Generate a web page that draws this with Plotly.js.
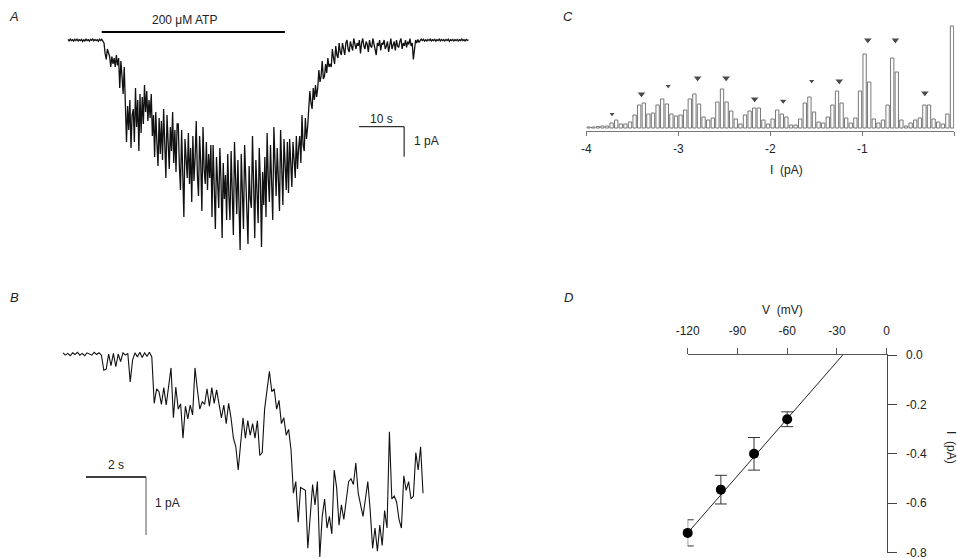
<!DOCTYPE html>
<html><head><meta charset="utf-8">
<script src="https://cdn.plot.ly/plotly-3.0.1.min.js"></script>
<style>html,body{margin:0;padding:0;background:#fff;}#chart{width:957px;height:559px;}</style>
</head><body><div id="chart"></div>
<script>
// ---------- Panel A: current during 200 uM ATP (pA vs s) ----------
const dtA = 0.25; // s per sample
const currentA = [
 // 0 - 7.75 s baseline
 0.02,-0.03,0.03,-0.02,0.01,-0.04,0.02,-0.02,0.03,-0.03,0.01,-0.02,0.02,-0.05,0.01,-0.03,
 0.03,-0.02,0.01,-0.04,0.02,-0.01,0.03,-0.03,0.02,-0.02,0.01,-0.04,0.03,-0.02,0.02,-0.03,
 // 8 - 61.25 s
 -0.1,-0.45,-0.65,-0.3,-0.4,-0.55,
 -0.9,-0.55,-0.8,-0.6,-0.9,-0.5,-0.85,-0.6,
 -1.6,-0.7,-1.2,-1.8,-0.9,-1.9,
 -3.4,-2.2,-3.0,-2.0,-3.6,-2.5,
 -2.3,-3.4,-1.6,-2.9,-2.0,-3.7,-1.8,-3.1,
 -1.9,-2.8,-1.5,-2.4,-1.7,-2.7,-2.0,-2.6,
 -1.8,-3.2,-2.5,-3.9,-2.4,-3.4,-4.2,-2.6,-3.8,-2.7,
 -4.0,-2.3,-3.5,-4.6,-2.5,-3.3,-4.3,-2.9,-3.7,-2.4,-4.1,-3.0,-4.4,-2.8,
 -2.8,-4.2,-5.0,-3.0,-4.4,-5.9,-3.3,-4.0,-4.6,-3.1,-4.8,-3.6,-5.4,-3.2,-4.7,-3.9,
 -2.7,-4.5,-5.2,-3.2,-4.1,-5.7,-2.9,-4.3,-4.8,-3.4,-5.0,-3.8,-4.6,-3.5,
 -5.9,-3.5,-4.8,-6.3,-3.9,-5.1,-5.6,-3.6,-4.7,-6.6,-4.1,-5.3,-4.5,-6.0,-3.8,-5.2,
 -6.0,-3.7,-5.0,-6.5,-3.4,-4.6,-5.8,-4.0,-5.5,-7.0,-3.8,-5.2,-6.3,-3.5,-4.9,-5.9,
 -6.8,-4.2,-5.3,-5.6,-3.2,-4.8,-6.6,-4.0,-5.4,-6.1,-3.6,-4.7,-6.9,-4.4,-5.5,-3.9,
 -5.9,-3.1,-4.6,-5.4,-3.5,-4.9,-6.0,-2.9,-4.4,-5.2,-3.6,-4.8,-5.7,-3.0,-4.5,-5.5,-3.3,-4.2,-5.0,-3.4,
 -5.1,-3.3,-4.4,-4.9,-3.4,-4.2,-4.6,-3.2,-4.3,-3.6,
 -3.2,-4.1,-2.5,-3.5,-3.7,-2.6,-3.3,-2.9,
 -2.4,-1.7,-2.1,-2.3,-1.6,-2.0,-1.5,-1.9,
 -1.6,-1.0,-1.4,-1.2,-0.7,-1.3,-1.2,-0.8,-1.1,-0.6,-0.9,-0.8,
 -0.9,-0.3,-0.6,-0.8,-0.2,-0.5,-0.6,-0.1,-0.4,-0.5,-0.1,-0.3,
 // 61.5 - 78.25 s recovery tail
 -0.5,-0.1,0.0,-0.3,-0.4,-0.05,-0.2,-0.35,
 0.05,-0.15,-0.3,-0.1,-0.2,0.0,-0.45,-0.1,
 0.05,-0.2,-0.3,-0.05,-0.15,-0.4,0.0,-0.2,
 -0.25,0.05,-0.1,-0.3,-0.5,-0.1,-0.2,0.0,
 -0.35,-0.1,-0.15,0.0,-0.3,-0.2,-0.05,-0.4,
 -0.1,0.05,-0.3,-0.15,-0.05,-0.35,0.0,-0.2,
 -0.25,-0.05,0.05,-0.3,-0.1,-0.2,0.0,-0.25,
 -0.05,-0.15,0.05,-0.2,-0.1,-0.65,-0.2,0.0,
 -0.1,0.02,-0.08,-0.03,
 // 78.5 - 89 s baseline
 0.03,-0.02,0.02,-0.04,0.01,-0.03,0.02,-0.02,0.03,-0.03,0.01,-0.02,0.02,-0.04,0.01,-0.02,
 0.03,-0.03,0.02,-0.02,0.01,-0.03,0.02,-0.02,0.03,-0.04,0.01,-0.02,0.02,-0.03,0.01,-0.02,
 0.02,-0.03,0.01,-0.02,0.03,-0.02,0.01,-0.03,0.02,-0.01,0.0
];
const atpStart = 7.5, atpEnd = 48.2; // s, application bar

// ---------- Panel B: expanded trace (pA vs s) ----------
const dtB = 0.08;
const currentB = [
 0.02,-0.02,0.01,-0.03,0.02,-0.01,0.03,-0.02,0.01,-0.03,0.02,0,-0.02,0.03,-0.01,0.02,-0.02,
 -0.28,-0.26,0.0,-0.2,0.01,-0.22,0.0,-0.13,0.02,-0.02,0.01,-0.48,-0.1,
 0.02,-0.05,0.03,-0.06,0.02,-0.04,0.03,-0.05,
 -0.85,-0.6,-0.65,-0.87,-0.58,-0.88,-0.6,-0.24,-1.1,-0.57,-0.95,-0.86,-1.45,-0.9,-1.12,-0.88,-1.05,
 -0.24,-0.62,-0.95,-0.82,-0.87,-0.6,-0.9,-0.58,-0.85,-0.62,
 -0.9,-1.1,-0.88,-1.2,-0.85,-1.1,-1.45,-1.6,-2.0,-1.5,-1.1,-1.45,-1.15,-1.4,-1.2,-1.45,-1.15,-1.75,-1.7,
 -0.95,-0.6,-0.3,-0.65,-0.6,-0.95,-0.8,-1.2,-1.1,-1.4,-1.3,-1.65,
 -2.4,-2.2,-2.9,-2.3,-2.32,-2.35,-3.35,-2.8,-2.25,-2.6,-2.2,-3.5,-2.8,-2.5,-3.0,-2.8,-3.1,
 -2.0,-2.3,-2.95,-2.6,-2.85,-2.55,-2.2,-2.15,-2.25,-1.88,-2.4,-2.6,-2.8,-2.5,-2.2,-2.7,
 -3.35,-3.0,-3.4,-2.95,-3.3,-2.7,-3.0,-1.34,-2.5,-2.45,-2.55,-2.85,-3.0,-2.1,-2.35,-2.2,-2.5,-2.45,-1.7,-2.0,-1.6,-2.4
];

// ---------- Panel C: amplitude histogram ----------
const histBinStart = -4, histBinWidth = 0.05;
const histCounts = [
 1,1,1.5,2,2,5,8,4,4,6, 13,23,25,14,15,23,29,24,14,12,
 13,18,29,34,24,11,8,10,26,39, 26,17,9,4,13,17,20,20,8,4,
 9,18,14,11,3,3,9,25,31,16, 6,5,11,23,37,25,10,5,10,37,
 74,46,9,5,8,23,70,56,8,2, 5,8,10,23,23,9,6,4,14,102
];
const peakLevels = [-3.72,-3.40,-3.11,-2.79,-2.48,-2.17,-1.86,-1.55,-1.25,-0.94,-0.64,-0.32];
const peakMarkerHeights = [14,34,42,50,50,29,27,47,47,88,88,35];
const histTickVals = [-4,-3,-2,-1,0];
const histTickText = ["-4","-3","-2","-1","0"];

// ---------- Panel D: I-V relation ----------
const voltage = [-120,-100,-80,-60];
const meanCurrent = [-0.72,-0.545,-0.40,-0.26];
const semCurrent = [0.053,0.058,0.066,0.03];
const reversalPotential = -26.5; // mV
const slopeConductance = 0.0077;  // pA/mV
const fitVoltage = [-120.5, reversalPotential];
const vTickVals = [-120,-90,-60,-30,0];
const vTickText = ["-120","-90","-60","-30","0"];
const iTickVals = [0,-0.2,-0.4,-0.6,-0.8];
const iTickText = ["0.0","-0.2","-0.4","-0.6","-0.8"];

// ---------- build ----------
const W = 957, H = 559;
const px = x => x / W, py = y => 1 - y / H;
const FONT = "Liberation Sans, Arial, Helvetica, sans-serif";
const timeA = currentA.map((_, i) => i * dtA);
const timeB = currentB.map((_, i) => i * dtB);
const binCenters = histCounts.map((_, i) => histBinStart + histBinWidth * (i + 0.5));
const fitCurrent = fitVoltage.map(v => slopeConductance * (v - reversalPotential));

const traces = [
 {x: timeA, y: currentA, xaxis:'x', yaxis:'y', mode:'lines', line:{color:'#111', width:1.3}, hoverinfo:'skip'},
 {x: timeB, y: currentB, xaxis:'x2', yaxis:'y2', mode:'lines', line:{color:'#111', width:1.1, shape:'linear'}, hoverinfo:'skip'},
 {type:'bar', x: binCenters, y: histCounts, xaxis:'x3', yaxis:'y3', width: histBinWidth*0.72,
  marker:{color:'#fff', line:{color:'#777', width:1}}, hoverinfo:'skip'},
 {x: peakLevels, y: peakMarkerHeights, xaxis:'x3', yaxis:'y3', mode:'markers',
  marker:{symbol:'triangle-down', size:[6,8,6,8,8,8,7,6,8,8,8,8], color:'#000'}, cliponaxis:false, hoverinfo:'skip'},
 {x: fitVoltage, y: fitCurrent, xaxis:'x4', yaxis:'y4', mode:'lines', line:{color:'#222', width:1}, hoverinfo:'skip'},
 {x: voltage, y: meanCurrent, xaxis:'x4', yaxis:'y4', mode:'markers', cliponaxis:false,
  marker:{color:'#000', size:10},
  error_y:{type:'data', array: semCurrent, visible:true, color:'#333', thickness:1, width:6}, hoverinfo:'skip'}
];

const hidden = {visible:false, showgrid:false, zeroline:false, fixedrange:true};
const txt = (text, x, y, extra) => Object.assign({text, xref:'paper', yref:'paper', x:px(x), y:py(y),
  xanchor:'center', yanchor:'middle', showarrow:false, font:{size:12, color:'#222'}}, extra || {});
const layout = {
 width: W, height: H, margin:{l:0,r:0,t:0,b:0}, paper_bgcolor:'#fff', plot_bgcolor:'rgba(0,0,0,0)',
 showlegend:false, font:{family:FONT, size:12, color:'#222'},
 xaxis: Object.assign({domain:[px(60), px(480)], range:[-1.778, 91.56], anchor:'y'}, hidden),
 yaxis: Object.assign({domain:[py(260), py(10)], range:[-7.333, 1.0], anchor:'x'}, hidden),
 xaxis2: Object.assign({domain:[px(55), px(430)], range:[-0.267, 12.233], anchor:'y2'}, hidden),
 yaxis2: Object.assign({domain:[0, py(290)], range:[-3.534, 1.103], anchor:'x2'}, hidden),
 xaxis3: {domain:[px(586.3), px(954.3)], range:[-4,0], anchor:'y3', showline:true, linecolor:'#777', linewidth:1,
   ticks:'outside', ticklen:4, tickcolor:'#777', tickvals:histTickVals, ticktext:histTickText, ticklabelstandoff:3,
   showgrid:false, zeroline:false, tickfont:{size:12, color:'#222'}},
 yaxis3: Object.assign({domain:[py(131), py(18)], range:[-3, 110], anchor:'x3'}, hidden),
 xaxis4: {domain:[px(687.7), px(886.7)], range:[-120,0], anchor:'y4', side:'top', showline:true, linecolor:'#555', linewidth:1,
   ticks:'outside', ticklen:6, tickcolor:'#555', tickvals:vTickVals, ticktext:vTickText, ticklabelstandoff:8,
   showgrid:false, zeroline:false, tickfont:{size:12, color:'#222'}},
 yaxis4: {domain:[py(552.9), py(355)], range:[-0.801,0], anchor:'x4', side:'right', showline:true, linecolor:'#444', linewidth:1,
   ticks:'outside', ticklen:9, tickcolor:'#444', tickvals:iTickVals, ticktext:iTickText, ticklabelstandoff:7,
   ticklabeloverflow:'allow', showgrid:false, zeroline:false, tickfont:{size:12, color:'#222'}},
 shapes: [
  {type:'line', xref:'x', yref:'y', x0:atpStart, x1:atpEnd, y0:0.267, y1:0.267, line:{color:'#000', width:2}},
  {type:'line', xref:'x', yref:'y', x0:64.7, x1:74.7, y0:-2.89, y1:-2.89, line:{color:'#000', width:1}},
  {type:'line', xref:'x', yref:'y', x0:74.7, x1:74.7, y0:-2.89, y1:-3.89, line:{color:'#000', width:1}},
  {type:'line', xref:'x2', yref:'y2', x0:0.767, x1:2.767, y0:-2.121, y1:-2.121, line:{color:'#000', width:1.5}},
  {type:'line', xref:'x2', yref:'y2', x0:2.767, x1:2.767, y0:-2.121, y1:-3.121, line:{color:'#555', width:1}}
 ],
 annotations: [
  txt('<i>A</i>', 14, 17, {font:{size:13, color:'#222'}}),
  txt('<i>B</i>', 14, 297, {font:{size:13, color:'#222'}}),
  txt('<i>C</i>', 568, 17, {font:{size:13, color:'#222'}}),
  txt('<i>D</i>', 568, 297, {font:{size:13, color:'#222'}}),
  {text:'200 \u03bcM ATP', xref:'x', yref:'y', x:26, y:0.667, xanchor:'center', yanchor:'middle', showarrow:false, font:{size:12, color:'#222'}},
  {text:'10 s', xref:'x', yref:'y', x:69.7, y:-2.63, xanchor:'center', yanchor:'middle', showarrow:false, font:{size:12, color:'#222'}},
  {text:'1 pA', xref:'x', yref:'y', x:76.4, y:-3.37, xanchor:'left', yanchor:'middle', showarrow:false, font:{size:12, color:'#222'}},
  {text:'2 s', xref:'x2', yref:'y2', x:1.767, y:-1.914, xanchor:'center', yanchor:'middle', showarrow:false, font:{size:12, color:'#222'}},
  {text:'1 pA', xref:'x2', yref:'y2', x:3.0, y:-2.57, xanchor:'left', yanchor:'middle', showarrow:false, font:{size:12, color:'#222'}},
  txt('I  (pA)', 786, 170),
  txt('V  (mV)', 782, 310),
  txt('I  (pA)', 951, 447, {textangle:90})
 ]
};
Plotly.newPlot('chart', traces, layout, {staticPlot:true, displayModeBar:false});
</script></body></html>
